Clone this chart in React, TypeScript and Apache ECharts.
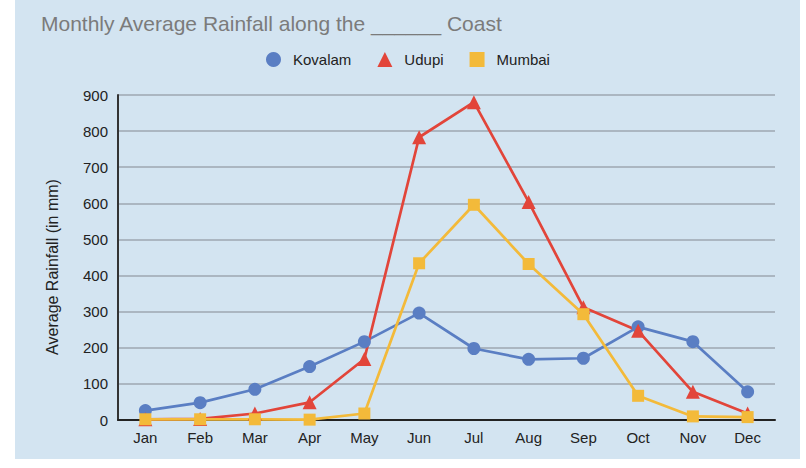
import React, { useEffect, useRef } from "react";
import * as echarts from "echarts";

const months = ["Jan", "Feb", "Mar", "Apr", "May", "Jun", "Jul", "Aug", "Sep", "Oct", "Nov", "Dec"];
const kovalam = [26, 48, 85, 148, 217, 296, 198, 168, 171, 258, 217, 78];
const udupi = [2, 3, 18, 49, 169, 783, 880, 604, 312, 247, 78, 18];
const mumbai = [2, 2, 2, 1, 18, 434, 596, 432, 293, 67, 10, 8];
const yTicks = { min: 0, max: 900, interval: 100 };

const COLORS = { kovalam: "#5a7ec3", udupi: "#e2453a", mumbai: "#f3ba3a" };
const FONT = "Liberation Sans, Arial, Helvetica, sans-serif";

export default function App() {
  const ref = useRef<HTMLDivElement>(null);
  useEffect(() => {
    if (!ref.current) return;
    const chart = echarts.init(ref.current, null, { renderer: "svg" });
    const mk = (name: string, data: number[], color: string, symbol: string, size: number) => ({
      name,
      type: "line",
      data,
      symbol,
      symbolSize: size,
      showAllSymbol: true,
      lineStyle: { color, width: 2.7 },
      itemStyle: { color },
      emphasis: { disabled: true },
    });
    chart.setOption({
      animation: false,
      backgroundColor: "#ffffff",
      textStyle: { fontFamily: FONT },
      graphic: [
        { type: "rect", z: -10, shape: { x: 15, y: 0, width: 785, height: 459 }, style: { fill: "#d3e4f1" } },
        {
          type: "text",
          x: 52,
          y: 267,
          rotation: Math.PI / 2,
          style: {
            text: "Average Rainfall (in mm)",
            font: `16px ${FONT}`,
            fill: "#222",
            align: "center",
            verticalAlign: "middle",
          },
        },
      ],
      title: {
        text: "Monthly Average Rainfall along the ______ Coast",
        left: 36,
        top: 8,
        textStyle: { color: "#7b7b7b", fontSize: 21, fontWeight: "normal", fontFamily: FONT },
      },
      legend: {
        left: 261,
        top: 47,
        itemWidth: 15,
        itemHeight: 15,
        itemGap: 26,
        textStyle: { color: "#222", fontSize: 15, fontFamily: FONT, padding: [0, 0, 0, 7] },
        data: [
          { name: "Kovalam", icon: "circle" },
          { name: "Udupi", icon: "triangle" },
          { name: "Mumbai", icon: "rect" },
        ],
      },
      grid: { left: 118, right: 31, top: 95, bottom: 48 },
      xAxis: {
        type: "category",
        data: months,
        boundaryGap: true,
        axisLine: { lineStyle: { color: "#222", width: 2 } },
        axisTick: { show: false },
        axisLabel: { color: "#222", fontSize: 15, margin: 10, fontFamily: FONT },
        splitLine: { show: false },
      },
      yAxis: {
        type: "value",
        min: yTicks.min,
        max: yTicks.max,
        interval: yTicks.interval,
        axisLine: { show: true, lineStyle: { color: "#333", width: 2 } },
        axisTick: { show: false },
        axisLabel: { color: "#222", fontSize: 15, margin: 10, fontFamily: FONT },
        splitLine: { lineStyle: { color: "#9ea7b0", width: 1.5 } },
      },
      series: [
        mk("Kovalam", kovalam, COLORS.kovalam, "circle", 13),
        mk("Udupi", udupi, COLORS.udupi, "triangle", 14),
        mk("Mumbai", mumbai, COLORS.mumbai, "rect", 12),
      ],
    });
    return () => chart.dispose();
  }, []);
  return (
    <div
      ref={ref}
      style={{ position: "fixed", left: 0, top: 0, width: 806, height: 468 }}
    />
  );
}
